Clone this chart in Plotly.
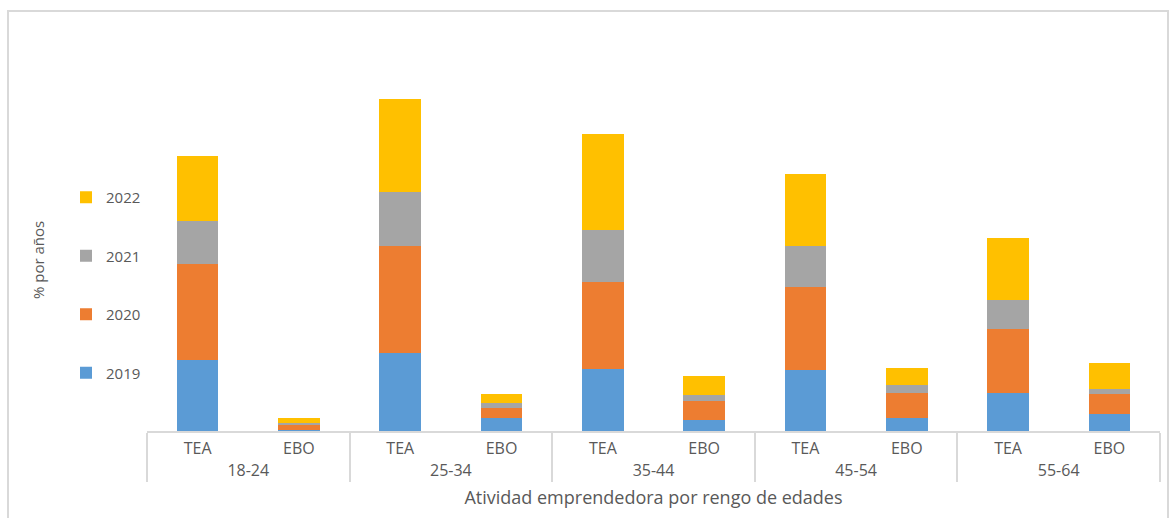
import plotly.graph_objects as go

# Age groups and activity type for each bar
age_groups = ["18-24", "18-24", "25-34", "25-34", "35-44", "35-44", "45-54", "45-54", "55-64", "55-64"]
activity = ["TEA", "EBO", "TEA", "EBO", "TEA", "EBO", "TEA", "EBO", "TEA", "EBO"]

# Percentages per year
y2019 = [12.8, 0.2, 14.0, 2.3, 11.1, 1.9, 11.0, 2.3, 6.8, 3.1]
y2020 = [17.2, 0.8, 19.3, 1.9, 15.7, 3.5, 14.9, 4.5, 11.5, 3.5]
y2021 = [7.8, 0.4, 9.7, 0.8, 9.4, 1.0, 7.4, 1.4, 5.2, 1.0]
y2022 = [11.7, 1.0, 16.8, 1.6, 17.3, 3.5, 13.0, 3.1, 11.2, 4.6]

series = [
    ("2019", y2019, "#5B9BD5", 4),
    ("2020", y2020, "#ED7D31", 3),
    ("2021", y2021, "#A5A5A5", 2),
    ("2022", y2022, "#FFC000", 1),
]

TXT = "#595959"
GRID = "#D9D9D9"
FONT = "'Open Sans', Lato, sans-serif"

fig = go.Figure()
for name, vals, color, rank in series:
    fig.add_trace(go.Bar(
        x=[age_groups, activity],
        y=vals,
        name=name,
        legendgroup=name,
        legendrank=rank,
        marker=dict(color=color, line=dict(width=0)),
    ))

W, H = 1169, 518
L, R, T, B = 147, 9, 31, 87
pw, ph = W - L - R, H - T - B

def px_x(p):
    return (p - L) / pw

def px_y(p):
    return (H - B - p) / ph

fig.update_layout(
    width=W, height=H,
    margin=dict(l=L, r=R, t=T, b=B),
    barmode="stack",
    bargap=0.59,
    paper_bgcolor="white",
    plot_bgcolor="white",
    font=dict(family=FONT, color=TXT, size=14),
    legend=dict(
        x=px_x(66), y=px_y(181), xanchor="left", yanchor="top",
        traceorder="grouped",
        tracegroupgap=36,
        font=dict(size=15, color=TXT),
        bgcolor="rgba(0,0,0,0)",
    ),
    xaxis=dict(
        type="multicategory",
        showline=True, linecolor=GRID, linewidth=2,
        showdividers=True, dividercolor=GRID, dividerwidth=2,
        ticks="", tickfont=dict(size=16, color=TXT),
        ticklabelstandoff=2,
        title=dict(text="Atividad emprendedora por rengo de edades",
                   font=dict(size=18, color=TXT), standoff=11),
    ),
    yaxis=dict(
        range=[0, 72],
        showgrid=False, zeroline=False, showline=False,
        showticklabels=False, ticks="",
    ),
    annotations=[dict(
        text="% por años", textangle=-90, showarrow=False,
        xref="paper", yref="paper", x=px_x(38), y=px_y(260),
        xanchor="center", yanchor="middle",
        font=dict(size=15, color=TXT),
    )],
    shapes=[dict(
        type="rect", xref="paper", yref="paper",
        x0=px_x(8), x1=px_x(1168), y0=px_y(540), y1=px_y(11),
        line=dict(color=GRID, width=2), fillcolor="rgba(0,0,0,0)", layer="below",
    )],
)

fig.write_html("out.html")
